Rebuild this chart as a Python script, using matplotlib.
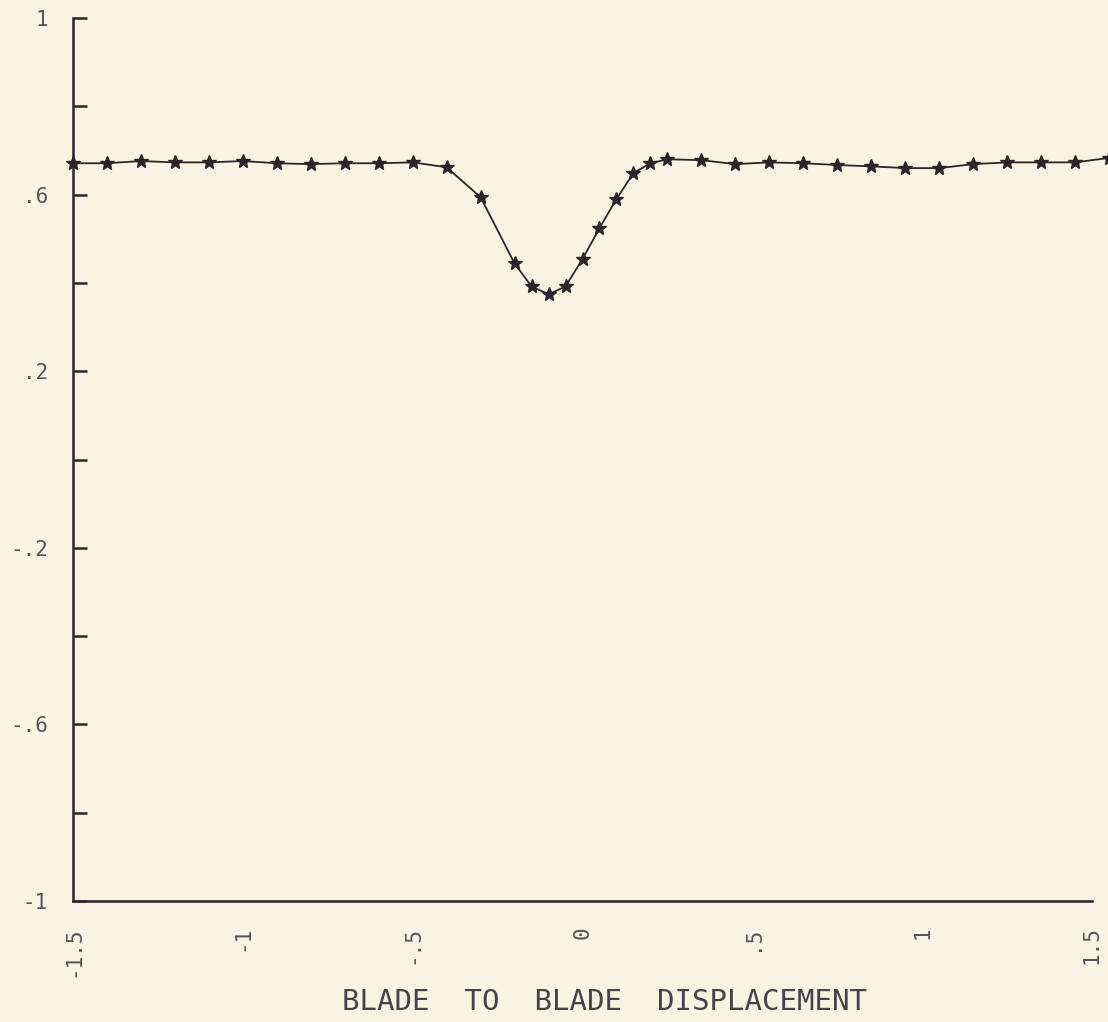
import matplotlib.pyplot as plt

# --- Data ---
x = [-1.5, -1.4, -1.3, -1.2, -1.1, -1.0, -0.9, -0.8, -0.7, -0.6, -0.5, -0.4,
     -0.3, -0.2, -0.15, -0.1, -0.05, 0.0, 0.05, 0.1, 0.15, 0.2,
     0.25, 0.35, 0.45, 0.55, 0.65, 0.75, 0.85, 0.95, 1.05, 1.15, 1.25, 1.35, 1.45, 1.55]
y = [0.671, 0.671, 0.676, 0.673, 0.673, 0.676, 0.671, 0.669, 0.671, 0.671, 0.673, 0.662,
     0.594, 0.444, 0.392, 0.374, 0.392, 0.454, 0.524, 0.590, 0.649, 0.671,
     0.680, 0.678, 0.669, 0.673, 0.671, 0.667, 0.664, 0.660, 0.660, 0.669, 0.673, 0.673, 0.673, 0.683]

xtick_pos = [-1.5, -1, -0.5, 0, 0.5, 1, 1.5]
xtick_lab = ["-1.5", "-1", "-.5", "0", ".5", "1", "1.5"]
ytick_pos = [1, 0.6, 0.2, -0.2, -0.6, -1]
ytick_lab = ["1", ".6", ".2", "-.2", "-.6", "-1"]
ytick_minor = [0.8, 0.4, 0.0, -0.4, -0.8]

bg = '#f6f5e4'
ink = '#2a2626'
font = 'DejaVu Sans Mono'

fig = plt.figure(figsize=(11.08, 10.22), dpi=100, facecolor=bg)
ax = fig.add_axes([73 / 1108, 121 / 1022, 1019 / 1108, 883 / 1022])
ax.set_facecolor(bg)

# --- Plot ---
ax.plot(x, y, color=ink, lw=1.3, marker='*', markersize=10, clip_on=False)

ax.set_xlim(-1.5, 1.5)
ax.set_ylim(-1, 1)

for s in ['top', 'right']:
    ax.spines[s].set_visible(False)
for s in ['left', 'bottom']:
    ax.spines[s].set_color(ink)
    ax.spines[s].set_linewidth(1.8)

ax.set_xticks(xtick_pos)
ax.set_xticklabels(xtick_lab, rotation=90, family=font, fontsize=15, color='#555')
ax.set_xticks([-0.5, 0.5], minor=True)
ax.tick_params(axis='x', which='major', length=0, pad=18)
ax.tick_params(axis='x', which='minor', direction='in', length=9, width=1.3, color=ink)

ax.set_yticks(ytick_pos)
ax.set_yticklabels(ytick_lab, family=font, fontsize=15, color='#555')
ax.set_yticks(ytick_minor, minor=True)
ax.tick_params(axis='y', which='both', direction='in', length=10, width=1.8, color=ink, pad=18)

fig.text(604 / 1108, 20 / 1022, "BLADE  TO  BLADE  DISPLACEMENT", ha='center', va='center',
         family=font, fontsize=21, color='#444')

fig.savefig('out.png', dpi=100, facecolor=bg)
